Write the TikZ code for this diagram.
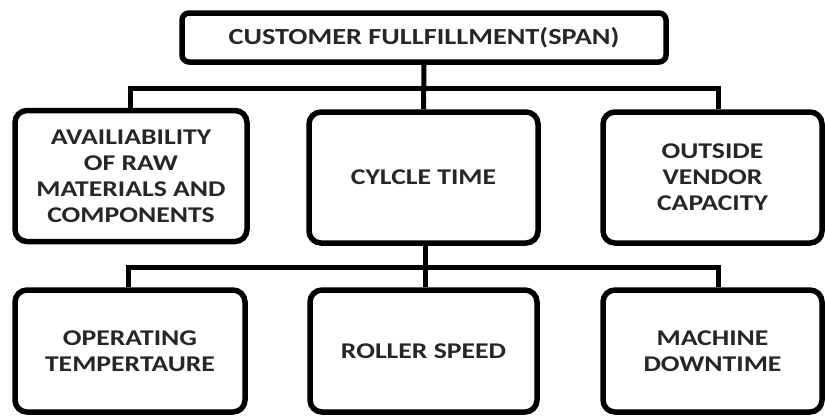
\documentclass[tikz,border=0pt]{standalone}
\usepackage{fontspec}
\setmainfont{Carlito}[FakeStretch=1.23]
\begin{document}
\begin{tikzpicture}[x=1pt,y=-1pt,
		box/.style={draw, line width=5.5pt, rounded corners=12pt, align=center, inner sep=0pt,
			font=\bfseries\fontsize{22.5}{26}\selectfont, text=black!85},
		link/.style={line width=5pt}]
	
	\useasboundingbox (0,0) rectangle (825,416);
	
	% top box
	\node[box, rounded corners=7pt, minimum width=484pt, minimum height=49pt,
		font=\bfseries\fontsize{23}{26}\selectfont] (span) at (424,37.5) {CUSTOMER FULLFILLMENT(SPAN)};
	
	% second row
	\node[box, minimum width=232pt, minimum height=131pt] (raw) at (131,176)
		{AVAILIABILITY\\OF RAW\\MATERIALS AND\\COMPONENTS};
	\node[box, minimum width=229pt, minimum height=131pt] (cycle) at (423.5,177.5) {CYLCLE TIME};
	\node[box, minimum width=219pt, minimum height=131pt] (vendor) at (712.5,177.5)
		{OUTSIDE\\VENDOR\\CAPACITY};
	
	% third row
	\node[box, minimum width=230pt, minimum height=122pt] (temp) at (130,351) {OPERATING\\TEMPERTAURE};
	\node[box, minimum width=227pt, minimum height=122pt] (roller) at (423.5,351) {ROLLER SPEED};
	\node[box, minimum width=219pt, minimum height=122pt] (downtime) at (712.5,351) {MACHINE\\DOWNTIME};
	
	% first level links
	\coordinate (busA) at (424,88);
	\draw[link] (span.south) -- (cycle.north);
	\draw[link] ([xshift=-1pt]raw.north) |- (busA) -| ([xshift=6pt]vendor.north);
	
	% second level links
	\coordinate (busB) at (424,267);
	\draw[link] ([xshift=1.5pt]cycle.south) -- ([xshift=1.5pt]roller.north);
	\draw[link] ([xshift=-2pt]temp.north) |- (busB) -| ([xshift=5.5pt]downtime.north);
	
\end{tikzpicture}
\end{document}
